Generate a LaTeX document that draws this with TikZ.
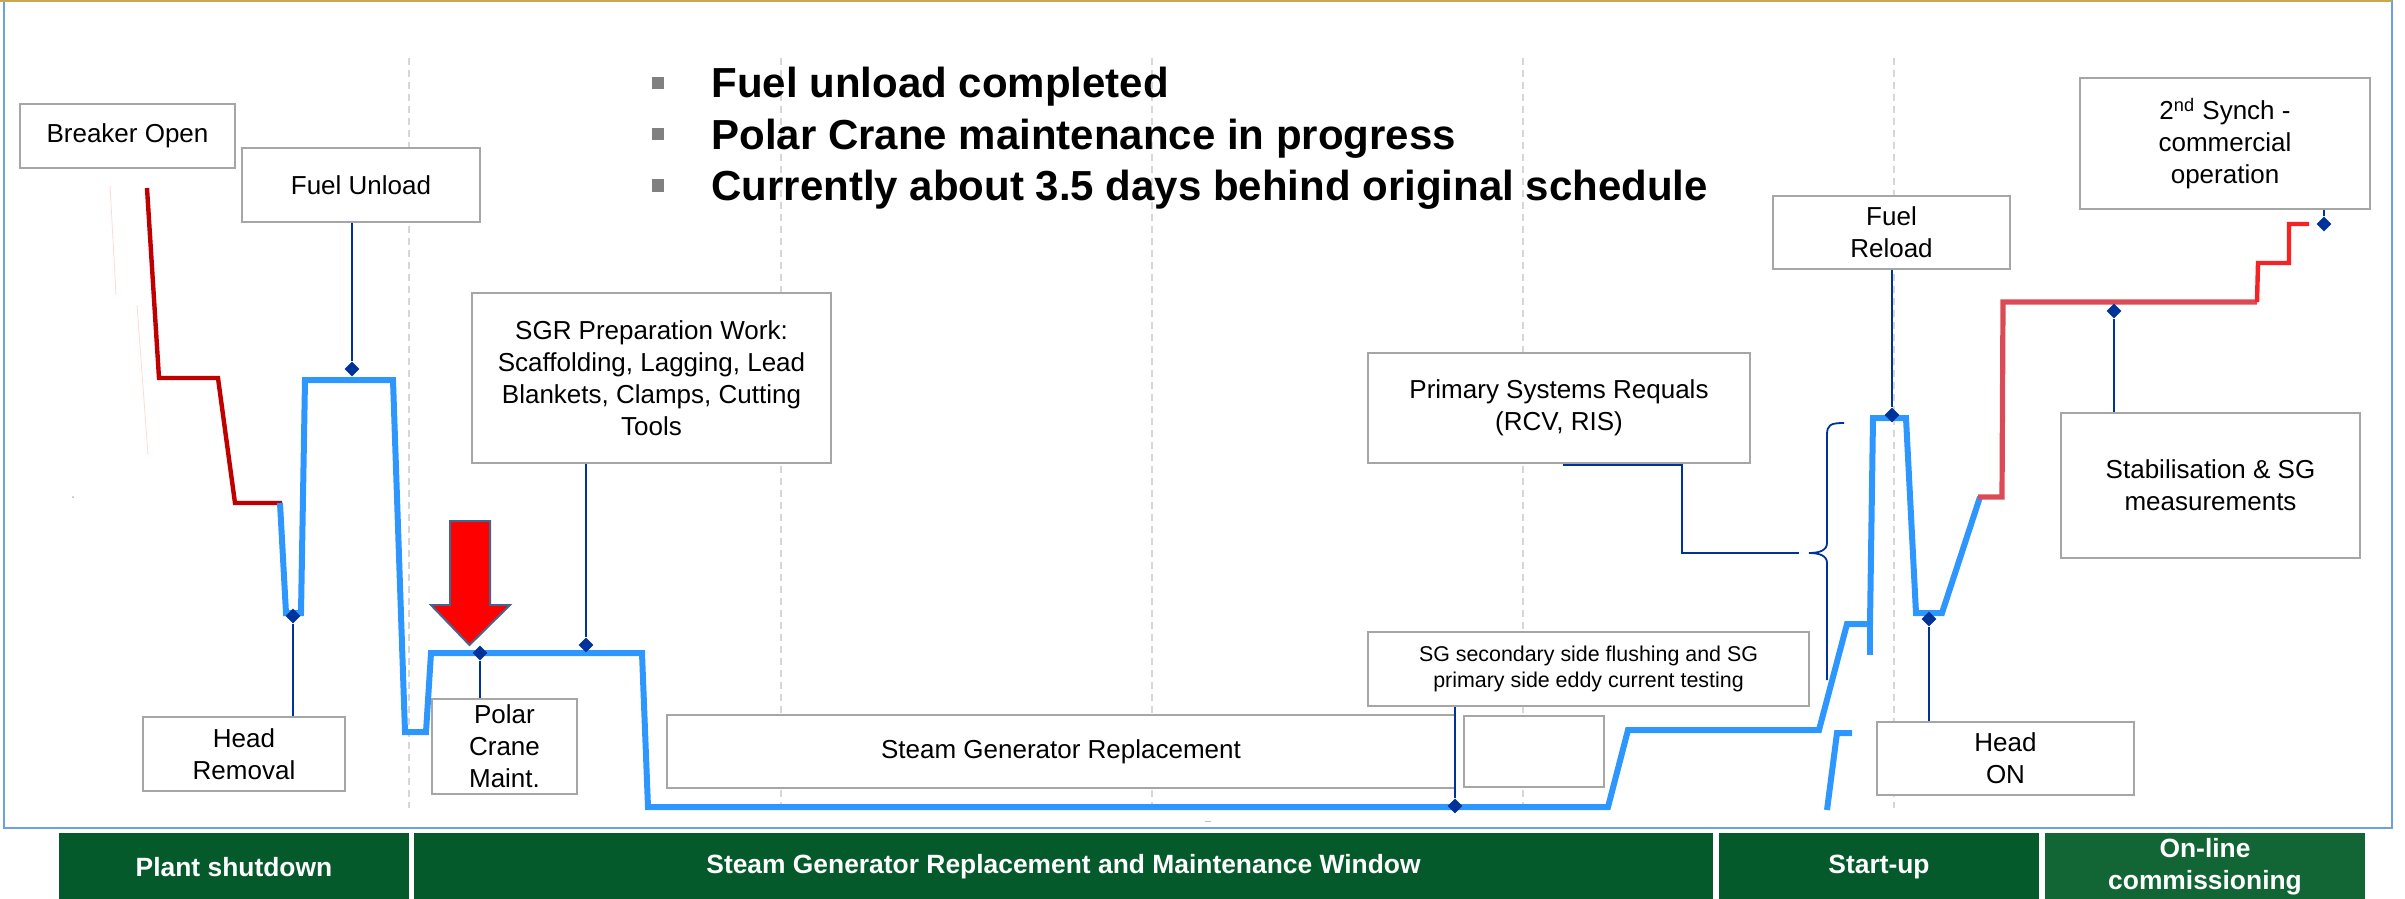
\documentclass[tikz,border=0pt]{standalone}
\usepackage{fontspec}
\setmainfont{Liberation Sans}
\usetikzlibrary{shapes.geometric}

\definecolor{dkblue}{RGB}{0,51,153}
\definecolor{ltblue}{RGB}{45,150,255}
\definecolor{dkred}{RGB}{192,0,0}
\definecolor{mdred}{RGB}{220,75,85}
\definecolor{brred}{RGB}{245,35,35}
\definecolor{boxgray}{RGB}{166,166,166}
\definecolor{gridgray}{RGB}{215,215,215}
\definecolor{dkgreen}{RGB}{4,90,42}
\definecolor{ltgreen}{RGB}{18,101,52}
\definecolor{framebl}{RGB}{110,160,220}
\definecolor{goldln}{RGB}{200,168,78}
\definecolor{arrbd}{RGB}{70,100,140}

\begin{document}
\begin{tikzpicture}[x=0.5pt, y=-0.5pt,
    lbl/.style={draw=boxgray, line width=1.2pt, fill=white, align=center,
      inner sep=0pt, font=\fontsize{13}{16}\selectfont},
    bar/.style={fill=dkgreen, text=white, align=center, inner sep=0pt,
      minimum height=34pt, font=\bfseries\fontsize{13.2}{16}\selectfont},
    dmd/.style={diamond, fill=dkblue, inner sep=0pt, minimum width=7.5pt, minimum height=7.5pt},
    conn/.style={dkblue, line width=0.9pt},
    bline/.style={ltblue, line width=3pt},
    grid line/.style={gridgray, line width=0.6pt, dash pattern=on 3.5pt off 2.5pt},
    sq/.style={fill=gray, inner sep=0pt, minimum size=6pt},
    blt/.style={inner sep=0pt, anchor=base west, font=\bfseries\fontsize{21}{25}\selectfont}]

    \useasboundingbox (0,0) rectangle (2405,899);
    \clip (0,0) rectangle (2405,899);

    % frame and phase grid
    \foreach \x in {409,781,1152,1523,1894}
        \draw[grid line] (\x,58) -- (\x,808);
    \draw[framebl, line width=0.8pt] (4,0) -- (4,828) -- (2392,828) -- (2392,0);
    \draw[goldln, line width=1pt] (0,1) -- (2392,1);

    % status
    \node[sq] (q1) at (658,83) {};
    \node[sq] (q2) at (658,134.5) {};
    \node[sq] (q3) at (658,185.5) {};
    \node[blt] (t1) at (711,98) {Fuel unload completed};
    \node[blt] (t2) at (711,149.5) {Polar Crane maintenance in progress};
    \node[blt] (t3) at (711,200) {Currently about 3.5 days behind original schedule};

    % milestone boxes
    \node[lbl, minimum width=107.5pt, minimum height=32pt] (brk) at (127.5,136) {Breaker Open};
    \node[lbl, minimum width=119pt, minimum height=37pt] (fun) at (361,185) {Fuel Unload};
    \node[lbl, minimum width=179.5pt, minimum height=85pt] (sgrp) at (651.5,378)
        {SGR Preparation Work:\\Scaffolding, Lagging, Lead\\Blankets, Clamps, Cutting\\Tools};
    \node[lbl, minimum width=101pt, minimum height=37pt] (hrem) at (244,754) {Head\\Removal};
    \node[lbl, minimum width=72.5pt, minimum height=47.5pt] (pcm) at (504.5,746.5) {Polar\\Crane\\Maint.};
    \node[lbl, minimum width=394pt, minimum height=36.5pt] (sgr) at (1061,751.5) {Steam Generator Replacement};
    \node[lbl, minimum width=70pt, minimum height=35.5pt] (emp) at (1534,751.5) {};
    \node[lbl, minimum width=220.5pt, minimum height=37pt, font=\fontsize{10.7}{13}\selectfont] (sgf) at (1588.5,669)
        {SG secondary side flushing and SG\\primary side eddy current testing};
    \node[lbl, minimum width=191pt, minimum height=55pt] (psr) at (1559,408) {Primary Systems Requals\\(RCV, RIS)};
    \node[lbl, minimum width=118.5pt, minimum height=36.5pt] (frl) at (1891.5,232.5) {Fuel\\Reload};
    \node[lbl, minimum width=145pt, minimum height=65.5pt] (syn) at (2225,143.5)
        {2\textsuperscript{nd} Synch -\\commercial\\operation};
    \node[lbl, minimum width=149.5pt, minimum height=72.5pt] (stab) at (2210.5,485.5) {Stabilisation \& SG\\measurements};
    \node[lbl, minimum width=128.5pt, minimum height=36.5pt] (hon) at (2005.5,758.5) {Head\\ON};

    % faint marks
    \draw[pink!60, line width=0.4pt] (110,185) -- (116,295);
    \draw[pink!60, line width=0.4pt] (137,305) -- (148,455);
    \fill[gray!60] (73,497) circle (1);
    \draw[gray!50, line width=0.5pt] (1205,821) -- (1211,821);

    % progress curve
    \draw[dkred, line width=2.2pt] (147,188) -- (159,378) -- (218,378) -- (235,503) -- (282,503);
    \draw[bline] (280,503) -- (286,613) -- (301,613) -- (305,380) -- (393,380) -- (405,732)
        -- (426,732) -- (431,653) -- (642,653) -- (648,807) -- (1608,807) -- (1628,730)
        -- (1819,730) -- (1847,624) -- (1870,624) -- (1873,418) -- (1906,418) -- (1916,613)
        -- (1942,613) -- (1980,497);
    \draw[bline] (1870,655) -- (1870,624);
    \draw[bline] (1852,733) -- (1837,733) -- (1827,810);
    \draw[mdred, line width=2.6pt] (1978,497) -- (2002,497) -- (2003,302) -- (2257,302);
    \draw[brred, line width=2.2pt] (2257,302) -- (2258,263) -- (2289,263) -- (2289,224) -- (2309,224);

    % current position
    \draw[arrbd, fill=red, line width=1pt] (450,521) -- (490,521) -- (490,605) -- (510,605)
        -- (469.5,645) -- (431,605) -- (450,605) -- cycle;

    % diamonds on the curve
    \node[dmd] (dhr) at (293,616) {};
    \node[dmd] (dfu) at (352,369) {};
    \node[dmd] (dpc) at (480,653) {};
    \node[dmd] (dsp) at (586,645) {};
    \node[dmd] (dsf) at (1455,806) {};
    \node[dmd] (dfr) at (1892,415) {};
    \node[dmd] (dho) at (1929,619) {};
    \node[dmd] (dst) at (2114,311) {};
    \node[dmd] (dsy) at (2324,224) {};

    % connectors
    \draw[conn] (dhr) -- (dhr |- hrem.north);
    \draw[conn] (dfu |- fun.south) -- (dfu);
    \draw[conn] (dpc) -- (dpc |- pcm.north);
    \draw[conn] (dsp |- sgrp.south) -- (dsp);
    \draw[conn] (dsf |- sgf.south) -- (dsf);
    \draw[conn] (dfr |- frl.south) -- (dfr);
    \draw[conn] (dho) -- (dho |- hon.north);
    \draw[conn] (dst |- stab.north) -- (dst);
    \draw[conn] (dsy |- syn.south) -- (dsy);

    % requals bracket
    \coordinate (brc) at (1809,553);
    \draw[conn] (1563,465) -| (1682,553) -- ([xshift=-5pt]brc);
    \draw[conn] (1844,423) .. controls (1830,423) and (1827,425) .. (1827,435) -- (1827,543)
        .. controls (1827,550) and (1820,553) .. (brc)
        .. controls (1820,553) and (1827,556) .. (1827,563) -- (1827,680);

    % phases
    \node[bar, minimum width=175pt] (psd) at (234,867) {Plant shutdown};
    \node[bar, minimum width=649.5pt] (sgw) at (1063.5,867) {Steam Generator Replacement and Maintenance Window};
    \node[bar, minimum width=160pt] (sup) at (1879,867) {Start-up};
    \node[bar, fill=ltgreen, minimum width=160pt] (olc) at (2205,867) {On-line\\commissioning};
\end{tikzpicture}
\end{document}
